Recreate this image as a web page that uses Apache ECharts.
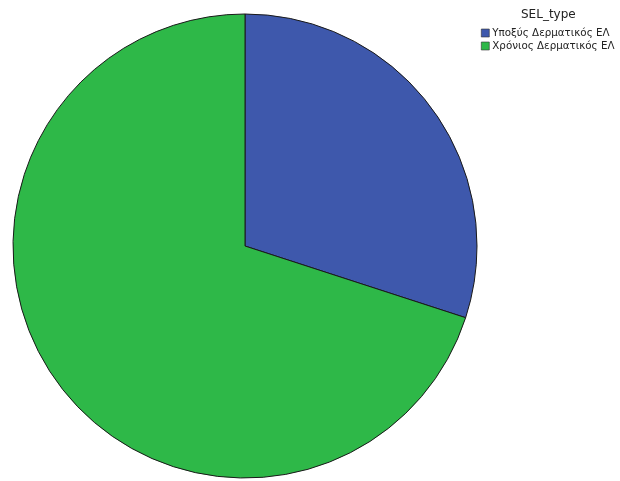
<!DOCTYPE html>
<html>
<head>
<meta charset="utf-8">
<script src="https://cdn.jsdelivr.net/npm/echarts@6/dist/echarts.min.js"></script>
<style>
html,body{margin:0;padding:0;background:#fff;}
#chart{width:620px;height:481px;}
</style>
</head>
<body>
<div id="chart"></div>
<script>
// SEL_type distribution
const categories = ['Υποξύς Δερματικός ΕΛ', 'Χρόνιος Δερματικός ΕΛ'];
const values = [30, 70];
const colors = ['#3e58ac', '#2eb848'];

const chart = echarts.init(document.getElementById('chart'), null, {renderer: 'canvas'});
chart.setOption({
  animation: false,
  backgroundColor: '#ffffff',
  title: {
    text: 'SEL_type',
    left: 516,
    top: 4,
    textStyle: {fontFamily: 'DejaVu Sans', fontSize: 12, fontWeight: 'normal', color: '#222'}
  },
  legend: {
    orient: 'vertical',
    left: 476,
    top: 23,
    itemWidth: 8,
    itemHeight: 8,
    itemGap: 3,
    icon: 'rect',
    data: categories,
    textStyle: {fontFamily: 'DejaVu Sans', fontSize: 10.3, color: '#222', padding: [0, 0, 0, -2]},
    itemStyle: {borderColor: '#333', borderWidth: 0.6}
  },
  series: [{
    type: 'pie',
    center: [245, 246],
    radius: 232,
    startAngle: 90,
    clockwise: true,
    label: {show: false},
    labelLine: {show: false},
    itemStyle: {borderColor: '#1a1a1a', borderWidth: 1},
    data: categories.map((c, i) => ({name: c, value: values[i], itemStyle: {color: colors[i]}}))
  }]
});
</script>
</body>
</html>
